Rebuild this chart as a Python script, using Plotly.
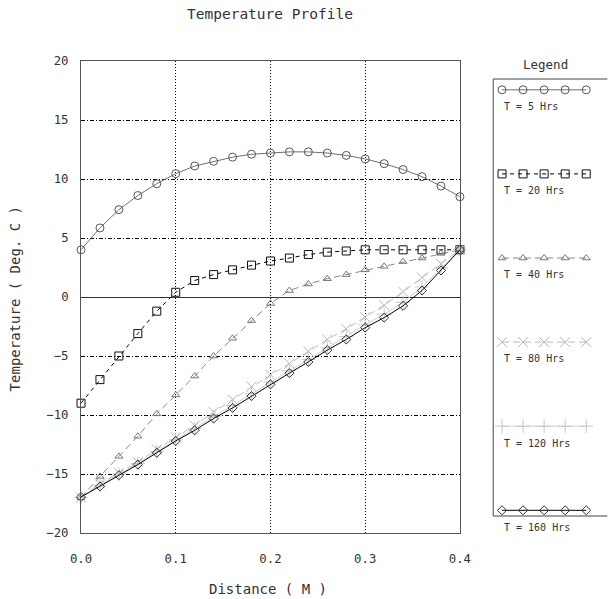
import plotly.graph_objects as go

# ---------------- data ----------------
distance = [0.00, 0.02, 0.04, 0.06, 0.08, 0.10, 0.12, 0.14, 0.16, 0.18, 0.20,
            0.22, 0.24, 0.26, 0.28, 0.30, 0.32, 0.34, 0.36, 0.38, 0.40]

t5 = [4.0, 5.85, 7.4, 8.6, 9.6, 10.45, 11.1, 11.5, 11.85, 12.1, 12.2,
      12.3, 12.3, 12.2, 12.0, 11.7, 11.3, 10.8, 10.2, 9.4, 8.5]
t20 = [-9.0, -7.0, -5.0, -3.1, -1.2, 0.4, 1.4, 1.9, 2.3, 2.7, 3.05,
       3.3, 3.6, 3.8, 3.9, 4.0, 4.0, 4.0, 4.0, 4.0, 4.0]
t40 = [-17.0, -15.2, -13.5, -11.8, -9.9, -8.3, -6.7, -5.0, -3.5, -2.0, -0.55,
       0.55, 1.1, 1.55, 1.9, 2.3, 2.6, 3.0, 3.3, 3.7, 4.0]
t80 = [-17.0, -15.8, -14.9, -14.0, -12.9, -11.9, -10.9, -9.75, -8.7, -7.6, -6.6,
       -5.65, -4.6, -3.6, -2.7, -1.7, -0.7, 0.45, 1.65, 2.8, 4.0]
t120 = [-17.0, -15.95, -15.0, -14.1, -13.1, -12.1, -11.15, -10.15, -9.2, -8.2, -7.2,
        -6.25, -5.3, -4.3, -3.35, -2.35, -1.45, -0.45, 0.85, 2.45, 4.0]
t160 = [-16.95, -16.05, -15.1, -14.2, -13.2, -12.2, -11.3, -10.3, -9.4, -8.4, -7.4,
        -6.45, -5.5, -4.5, -3.6, -2.6, -1.75, -0.75, 0.55, 2.25, 4.0]

series_names = ["T = 5 Hrs", "T = 20 Hrs", "T = 40 Hrs", "T = 80 Hrs", "T = 120 Hrs", "T = 160 Hrs"]
series_values = [t5, t20, t40, t80, t120, t160]

x_tickvals = [0.0, 0.1, 0.2, 0.3, 0.4]
x_ticktext = ["0.0", "0.1", "0.2", "0.3", "0.4"]
y_tickvals = [-20, -15, -10, -5, 0, 5, 10, 15, 20]

# ---------------- styles ----------------
styles = [
    dict(color="#707070", dash="solid", symbol="circle-open", size=8, mcolor="#555555"),
    dict(color="#000000", dash="4px,4px", symbol="square-open", size=8, mcolor="#111111"),
    dict(color="#8a8a8a", dash="7px,4px", symbol="triangle-up-open", size=7, mcolor="#777777"),
    dict(color="#bdbdbd", dash="7px,4px", symbol="x-thin-open", size=10, mcolor="#b5b5b5"),
    dict(color="#cfcfcf", dash="solid", symbol="cross-thin-open", size=10, mcolor="#c8c8c8"),
    dict(color="#000000", dash="solid", symbol="diamond-open", size=7, mcolor="#333333"),
]

FONT = "DejaVu Sans Mono"
TXT = "#333333"

W, H = 608, 599
ML, MR, MT, MB = 81, 0, 61, 66
pw = W - ML - MR
ph = H - MT - MB
plot_right_px = 468
x_dom_end = (plot_right_px - ML) / pw
leg_left_px = 502
leg_dom_start = (leg_left_px - ML) / pw


def px_x(p):
    return (p - ML) / pw


def px_y(p):
    return (H - MB - p) / ph


fig = go.Figure()

for name, vals, st in zip(series_names, series_values, styles):
    fig.add_trace(go.Scatter(
        x=distance, y=vals, name=name, mode="lines+markers",
        line=dict(color=st["color"], width=1, dash=st["dash"]),
        marker=dict(symbol=st["symbol"], size=st["size"], color=st["mcolor"],
                    line=dict(width=1, color=st["mcolor"])),
        xaxis="x", yaxis="y", showlegend=False, cliponaxis=False,
    ))

# legend samples on a helper axis
legend_x = [1, 2, 3, 4, 5]
for i, (name, st) in enumerate(zip(series_names, styles)):
    row = 5 - i
    fig.add_trace(go.Scatter(
        x=legend_x, y=[row] * 5, mode="lines+markers",
        line=dict(color=st["color"], width=1, dash=st["dash"]),
        marker=dict(symbol=st["symbol"], size=st["size"], color=st["mcolor"],
                    line=dict(width=1, color=st["mcolor"])),
        xaxis="x2", yaxis="y2", showlegend=False, cliponaxis=False, hoverinfo="skip",
    ))

annotations = []
for i, name in enumerate(series_names):
    row = 5 - i
    annotations.append(dict(
        x=0.98, y=row - 0.2, xref="x2", yref="y2", text=name, showarrow=False,
        xanchor="left", yanchor="middle", font=dict(family=FONT, size=10, color=TXT)))

annotations += [
    dict(x=px_x(274.5), y=px_y(14), xref="paper", yref="paper", text="Temperature Profile",
         showarrow=False, xanchor="center", yanchor="middle",
         font=dict(family=FONT, size=14.5, color=TXT)),
    dict(x=px_x(272), y=px_y(589), xref="paper", yref="paper", text="Distance ( M )",
         showarrow=False, xanchor="center", yanchor="middle",
         font=dict(family=FONT, size=14, color=TXT)),
    dict(x=px_x(14), y=px_y(299), xref="paper", yref="paper", text="Temperature ( Deg. C )",
         showarrow=False, xanchor="center", yanchor="middle", textangle=-90,
         font=dict(family=FONT, size=14, color=TXT)),
    dict(x=px_x(555), y=px_y(65), xref="paper", yref="paper", text="Legend",
         showarrow=False, xanchor="center", yanchor="middle",
         font=dict(family=FONT, size=12.5, color=TXT)),
]

box_col = "#444444"
lx = px_x(leg_left_px)
ly_top = px_y(79)
ly_bot = px_y(516)
shapes = [
    dict(type="line", xref="paper", yref="paper", x0=lx, x1=lx, y0=ly_bot, y1=ly_top,
         line=dict(color=box_col, width=1)),
    dict(type="line", xref="paper", yref="paper", x0=lx, x1=1.02, y0=ly_top, y1=ly_top,
         line=dict(color=box_col, width=1)),
    dict(type="line", xref="paper", yref="paper", x0=lx, x1=1.02, y0=ly_bot, y1=ly_bot,
         line=dict(color=box_col, width=1)),
]

# legend helper axis ranges (sample markers spaced ~21.5 px, first at 511 px)
step_px = 21.5
x2_start = 1 - (511 - leg_left_px) / step_px
x2_end = x2_start + (W - leg_left_px) / step_px
row_px = 84.1
y2_start = -(H - MB - 510.3) / row_px
y2_end = y2_start + ph / row_px

fig.update_layout(
    width=W, height=H,
    margin=dict(l=ML, r=MR, t=MT, b=MB, pad=0),
    paper_bgcolor="white", plot_bgcolor="white",
    font=dict(family=FONT, color=TXT),
    xaxis=dict(domain=[0, x_dom_end], range=[0, 0.4], tickvals=x_tickvals, ticktext=x_ticktext,
               showgrid=True, gridcolor="#000000", griddash="1px,2px", gridwidth=1,
               showline=True, linecolor="#555555", linewidth=1, mirror=True,
               zeroline=False, ticks="", ticklabelstandoff=14,
               tickfont=dict(family=FONT, size=12.3, color=TXT)),
    yaxis=dict(domain=[0, 1], range=[-20, 20], tickvals=y_tickvals,
               showgrid=True, gridcolor="#000000", griddash="4px,2px,1px,2px", gridwidth=1,
               showline=True, linecolor="#555555", linewidth=1, mirror=True,
               zeroline=True, zerolinecolor="#333333", zerolinewidth=1,
               ticks="", ticklabelstandoff=9,
               tickfont=dict(family=FONT, size=12.3, color=TXT)),
    xaxis2=dict(domain=[leg_dom_start, 1], range=[x2_start, x2_end], visible=False,
                anchor="y2", fixedrange=True),
    yaxis2=dict(domain=[0, 1], range=[y2_start, y2_end], visible=False,
                anchor="x2", fixedrange=True),
    annotations=annotations,
    shapes=shapes,
    showlegend=False,
)

fig.write_html("out.html")
